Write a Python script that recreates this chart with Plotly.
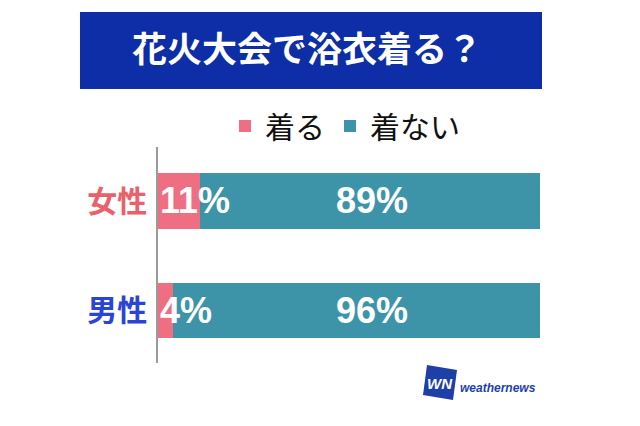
import plotly.graph_objects as go

W, H = 640, 426
OFF = 8  # page body margin

# ---- data ----
categories = ["女性", "男性"]
series_names = ["着る", "着ない"]
wear = [11, 4]
not_wear = [89, 96]
title_text = "花火大会で浴衣着る？"
cat_colors = ["#e8616c", "#2a44d6"]
label_x = 56  # value-axis position of the large percentage labels

PINK = "#ee6f81"
TEAL = "#3d94a9"
BANNER = "#0d2ea6"

ypos = [1, 0]  # 女性 on top

def px(x):
    return (x - OFF) / W

def py(y):
    return 1 - (y - OFF) / H

fig = go.Figure()
fig.add_trace(go.Bar(
    y=ypos, x=wear, orientation="h", name=series_names[0],
    marker=dict(color=PINK, line=dict(width=0)), width=0.51,
    textposition="none", hoverinfo="skip",
))
fig.add_trace(go.Bar(
    y=ypos, x=not_wear, orientation="h", name=series_names[1],
    marker=dict(color=TEAL, line=dict(width=0)), width=0.51,
    textposition="none", hoverinfo="skip",
))

annotations = []
for yv, v in zip(ypos, wear):
    annotations.append(dict(
        x=0, y=yv, xref="x", yref="y", xanchor="left", yanchor="middle",
        text=f"<b>{v}%</b>", showarrow=False, xshift=0,
        font=dict(color="white", size=36, family="Liberation Sans"),
    ))
for yv, v in zip(ypos, not_wear):
    annotations.append(dict(
        x=label_x, y=yv, xref="x", yref="y", xanchor="center", yanchor="middle",
        text=f"<b>{v}%</b>", showarrow=False,
        font=dict(color="white", size=36, family="Liberation Sans"),
    ))

# title
annotations.append(dict(
    x=px(307), y=py(47), xref="paper", yref="paper",
    xanchor="center", yanchor="middle", showarrow=False,
    text=f"<b>{title_text}</b>",
    font=dict(color="white", size=35, family="Noto Sans CJK JP"),
))
# logo text
annotations.append(dict(
    x=px(440), y=py(383), xref="paper", yref="paper",
    xanchor="center", yanchor="middle", showarrow=False,
    text="<b><i>WN</i></b>", font=dict(color="white", size=15, family="Liberation Sans"),
))
annotations.append(dict(
    x=px(458), y=py(388), xref="paper", yref="paper",
    xanchor="left", yanchor="middle", showarrow=False,
    text="<b><i>weathernews</i></b>", font=dict(color="#1f3fae", size=12, family="Liberation Sans"),
))

shapes = [
    dict(type="rect", xref="paper", yref="paper",
         x0=px(80), x1=px(542), y0=py(89), y1=py(12),
         fillcolor=BANNER, line=dict(width=0), layer="below"),
    dict(type="path", xref="paper", yref="paper",
         path=f"M{px(427)},{py(365)} L{px(457)},{py(370)} L{px(453)},{py(400)} L{px(423)},{py(395)} Z",
         fillcolor="#1e3ea8", line=dict(width=0)),
]

top_px, bot_px = 147, 363
unit = 109.5
y_top = 1 + (201 - top_px) / unit
y_bot = 0 - (bot_px - 310.5) / unit

fig.update_layout(
    width=W, height=H,
    margin=dict(l=0, r=0, t=0, b=0),
    paper_bgcolor="white", plot_bgcolor="white",
    barmode="stack", bargap=0,
    showlegend=True,
    legend=dict(orientation="h", x=px(225), y=py(100), xanchor="left", yanchor="top",
                font=dict(size=30, family="Noto Sans CJK JP", color="#111111"),
                bgcolor="rgba(0,0,0,0)", itemclick=False, traceorder="normal"),
    xaxis=dict(domain=[px(158), px(540)], range=[0, 100], visible=False, fixedrange=True),
    yaxis=dict(domain=[py(bot_px), py(top_px)], range=[y_bot, y_top],
               tickvals=ypos,
               ticktext=[f"<span style='color:{c}'><b>{t}</b></span>" for t, c in zip(categories, cat_colors)],
               tickfont=dict(size=30, family="Noto Sans CJK JP"),
               showline=True, linecolor="#9a9a9a", linewidth=1.5,
               showgrid=False, zeroline=False, ticks="", ticklabelstandoff=3, fixedrange=True),
    annotations=annotations,
    shapes=shapes,
)

fig.write_html("out.html")
